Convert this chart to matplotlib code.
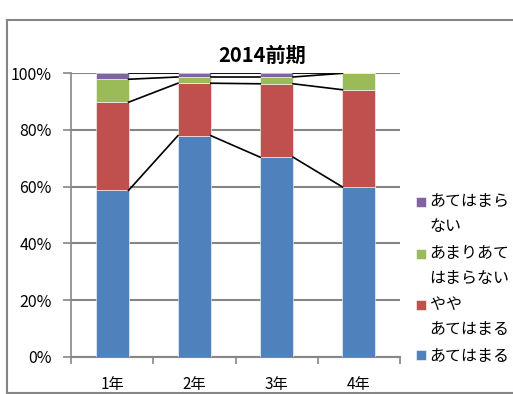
import matplotlib.pyplot as plt
from matplotlib.patches import Rectangle
from matplotlib.container import BarContainer
from matplotlib.legend_handler import HandlerPatch, update_from_first_child
import numpy as np

plt.rcParams['font.family'] = ['Noto Sans CJK JP', 'DejaVu Sans']

# Data (fractions of 100%)
grades = ["1年", "2年", "3年", "4年"]
series_names = ["あてはまる", "やや\nあてはまる", "あまりあて\nはまらない", "あてはまら\nない"]
series_colors = ["#4F81BD", "#C0504D", "#9BBB59", "#8064A2"]
atehamaru = [0.587, 0.780, 0.704, 0.599]
yaya = [0.311, 0.185, 0.259, 0.343]
amari = [0.081, 0.022, 0.024, 0.058]
atehamaranai = [0.021, 0.013, 0.013, 0.000]

values = [atehamaru, yaya, amari, atehamaranai]

LEG_FS = 11.5
LEG_LS = 1.6


def square_on_first_line(legend, orig_handle, xdescent, ydescent, width, height, fontsize):
    # put the square next to the first line of a wrapped label
    n_extra = orig_handle.get_label().count("\n")
    shift = n_extra * LEG_LS * LEG_FS * 0.5
    return Rectangle((-xdescent, -ydescent + shift), width, height)


fig = plt.figure(figsize=(5.13, 3.94), dpi=100)
ax = fig.add_axes([71 / 513, 1 - 356.7 / 394, 329 / 513, 283.4 / 394])

x = np.arange(len(grades))
width = 0.4
bottom = np.zeros(len(grades))
for name, vals, color in zip(series_names, values, series_colors):
    ax.bar(x, vals, width, bottom=bottom, color=color, label=name,
           edgecolor="white", linewidth=0.4, zorder=3)
    bottom = bottom + np.array(vals)
    # series lines between neighbouring bars
    for i in range(len(grades) - 1):
        ax.plot([x[i] + width / 2, x[i + 1] - width / 2], [bottom[i], bottom[i + 1]],
                color="black", linewidth=1.2, zorder=4)

ax.set_xlim(-0.5, len(grades) - 0.5)
ax.set_ylim(0, 1)
ax.set_yticks(np.arange(0, 1.01, 0.2))
ax.set_yticklabels([f"{int(round(v * 100))}%" for v in np.arange(0, 1.01, 0.2)])
ax.set_xticks(x)
ax.set_xticklabels(grades)
ax.set_xticks(np.arange(-0.5, len(grades), 1.0), minor=True)
ax.tick_params(axis="x", which="major", length=0, pad=14, labelsize=11)
ax.tick_params(axis="x", which="minor", length=5, color="#868686", width=1.2)
ax.tick_params(axis="y", length=6, color="#868686", width=1.2, labelsize=11.5, pad=8)

ax.grid(axis="y", color="#868686", linewidth=1.5, zorder=0)
ax.set_axisbelow(True)
for side in ["top", "right"]:
    ax.spines[side].set_visible(False)
ax.spines["left"].set_color("#868686")
ax.spines["left"].set_linewidth(1.2)
ax.spines["bottom"].set_color("#868686")
ax.spines["bottom"].set_linewidth(1.5)

fig.text(262 / 513, 1 - 55 / 394, "2014前期", ha="center", va="center",
         fontsize=14.5, fontweight="bold")

handles, labels = ax.get_legend_handles_labels()
handles, labels = handles[::-1], labels[::-1]
handler = HandlerPatch(patch_func=square_on_first_line, update_func=update_from_first_child)
leg = ax.legend(handles, labels, loc="center left",
                bbox_to_anchor=(416 / 513, 1 - 279 / 394), bbox_transform=fig.transFigure,
                frameon=False, fontsize=LEG_FS, handlelength=0.6, handleheight=0.6,
                handletextpad=0.25, labelspacing=0.6, borderpad=0, borderaxespad=0,
                handler_map={BarContainer: handler})
for t in leg.get_texts():
    t.set_linespacing(LEG_LS)

# chart area border (left, top and bottom visible)
border = dict(color="#868686", linewidth=1.5, transform=fig.transFigure)
fig.add_artist(plt.Line2D([7 / 513, 7 / 513], [1 - 20 / 394, 1 - 393 / 394], **border))
fig.add_artist(plt.Line2D([7 / 513, 1], [1 - 20 / 394, 1 - 20 / 394], **border))
fig.add_artist(plt.Line2D([7 / 513, 1], [1 - 392.5 / 394, 1 - 392.5 / 394], **border))

fig.savefig("out.png", dpi=100)
